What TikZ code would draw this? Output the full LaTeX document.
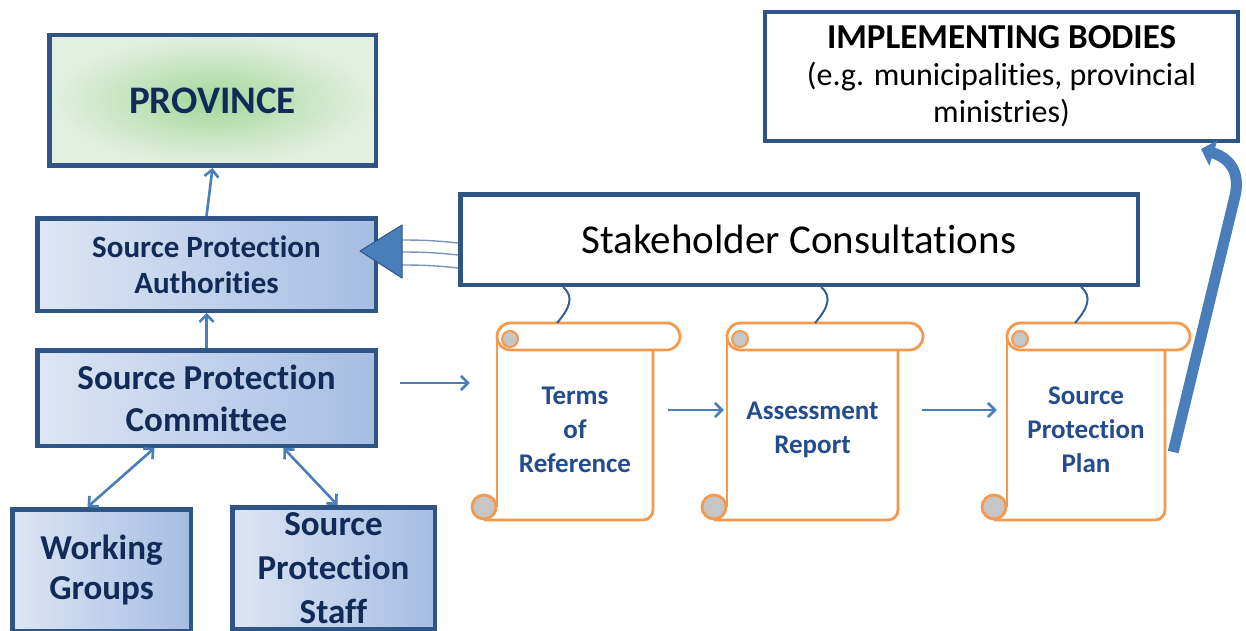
\documentclass[tikz,border=0pt]{standalone}
\usepackage{fontspec}
\setmainfont{Carlito}[Ligatures=NoCommon]
\usetikzlibrary{arrows.meta,calc}

\definecolor{frame}{HTML}{2F5486}
\definecolor{arrowblue}{HTML}{4A7EBB}
\definecolor{navy}{HTML}{112A58}
\definecolor{scrollorange}{HTML}{F5994E}
\definecolor{scrolltext}{HTML}{234C8C}
\definecolor{curlgray}{HTML}{C6C6C6}
\definecolor{bluelight}{HTML}{DCE6F4}
\definecolor{bluedark}{HTML}{A6BDE3}
\definecolor{greenmid}{HTML}{A5D69C}
\definecolor{greenedge}{HTML}{E2F1DF}
\definecolor{shaft}{HTML}{7D95B8}

\tikzset{
  box/.style={draw=frame, line width=4.5pt, inner sep=0pt, align=center, text=navy},
  bluebox/.style={box, left color=bluelight, right color=bluedark},
  whitebox/.style={box, fill=white, text=black},
  conn/.style={draw=arrowblue, line width=2.6pt, -{Straight Barb[length=7pt,width=14pt]}},
  conntwo/.style={conn, {Straight Barb[length=7pt,width=14pt]}-{Straight Barb[length=7pt,width=14pt]}},
  scrollline/.style={draw=scrollorange, line width=2.8pt},
  scrolltxt/.style={align=center, inner sep=0pt, text=scrolltext,
    font=\bfseries\fontsize{27}{34}\selectfont},
  hook/.style={draw=frame!70!arrowblue, line width=2pt},
}

% a hanging scroll: name, left edge, right end of the roll, right edge of the sheet, x of the hanger, text
\newcommand\scrollpage[6]{%
  \fill[white] (#2,337) rectangle (#4,520);
  \draw[scrollline] (#2,337) -- (#2,507);
  \draw[scrollline, rounded corners=10pt] (#2-13,520) -- (#4,520) -- (#4,345);
  \draw[scrollline, fill=white, rounded corners=13.5pt] (#2,323) rectangle (#3,350);
  \draw[scrollline, line width=2pt, fill=curlgray] (#2+13,339) circle[radius=8];
  \draw[scrollline, fill=curlgray] (#2-13,507) circle[radius=12];
  \node[scrolltxt, minimum width={(#4-#2)*1pt}] (#1) at ({(#2+#4)/2},430) {#6};
  \coordinate (#1top) at (#5,323);
  \draw[hook] ($(#1top |- stake.south)+(6,0)$) .. controls +(12,10) and +(12,-14) .. (#1top);
}

\begin{document}
\begin{tikzpicture}[x=1pt,y=-1pt]
\path[use as bounding box, fill=white] (0,0) rectangle (1246,631);
\clip (0,0) rectangle (1246,631);

% left hierarchy
\node[box, inner color=greenmid, outer color=greenedge, minimum width=326.5pt, minimum height=130.5pt,
      font=\bfseries\fontsize{39}{40}\selectfont] (prov) at (212.5,100.5) {PROVINCE};
\node[bluebox, minimum width=338.5pt, minimum height=92.5pt,
      font=\bfseries\fontsize{31}{36}\selectfont] (spa) at (206.5,264.5) {Source Protection\\Authorities};
\node[bluebox, minimum width=338.5pt, minimum height=95.5pt,
      font=\bfseries\fontsize{35}{42}\selectfont] (spc) at (206.5,398) {Source Protection\\Committee};
\node[bluebox, minimum width=178.5pt, minimum height=121.5pt,
      font=\bfseries\fontsize{35}{40}\selectfont] (wg) at (101.5,570) {Working\\Groups};
\node[bluebox, minimum width=202.5pt, minimum height=121.5pt,
      font=\bfseries\fontsize{35}{44}\selectfont] (staff) at (333.5,568) {Source\\Protection\\Staff};

% right side
\node[whitebox, minimum width=677.5pt, minimum height=90.5pt,
      font=\fontsize{41}{44}\selectfont] (stake) at (799,239.5) {Stakeholder Consultations};
\node[whitebox, line width=4pt, minimum width=473pt, minimum height=129pt,
      font=\fontsize{32}{37}\selectfont] (impl) at (1001.5,76.5)
      {{\bfseries\fontsize{35}{37}\selectfont IMPLEMENTING BODIES}\\(e.g. municipalities, provincial\\ministries)};

\scrollpage{s1}{497}{680}{653}{557}{Terms\\of\\Reference}
\scrollpage{s2}{727}{923}{898}{815}{Assessment\\Report}
\scrollpage{s3}{1007}{1190}{1165}{1075}{Source\\Protection\\Plan}

% connectors of the hierarchy
\draw[conn] (spa.north) -- (prov.south);
\draw[conn] (spc.north) -- (spa.south);
\draw[conntwo] ($(spc.south)+(-52,0)$) -- ($(wg.north)+(-14,0)$);
\draw[conntwo] ($(spc.south)+(77,0)$) -- ($(staff.north)+(4,0)$);

% document flow
\draw[conn] ($(spc.east)+(22,-15)$) -- ($(s1.west)+(-27,-47)$);
\draw[conn] ($(s1.east)+(15,-20)$) -- ($(s2.west)+(-3,-20)$);
\draw[conn] ($(s2.east)+(24,-20)$) -- ($(s3.west)+(-10,-20)$);

% consultations feeding the authorities
\coordinate (tip) at ($(spa.east)+(-18,-13.5)$);
\draw[shaft, line width=1.4pt] ($(tip)+(42,-11)$) to[bend left=3] ($(stake.west)+(0,3.5)$);
\draw[shaft, line width=1.4pt] ($(tip)+(42,1)$) to[bend left=3] ($(stake.west)+(0,15.5)$);
\draw[shaft, line width=1.4pt] ($(tip)+(42,14)$) to[bend left=3] ($(stake.west)+(0,28.5)$);
\draw[fill=arrowblue, draw=frame, line width=1pt, line join=round]
  (tip) -- ($(tip)+(42,-26)$) -- ($(tip)+(42,27)$) -- cycle;

% plan handed to the implementing bodies
\coordinate (planout) at ($(s3.east)+(8,22)$);
\coordinate (implin) at ($(impl.south east)+(-39,6)$);
\draw[arrowblue, line width=11pt, -{Triangle[length=13pt,width=26pt]}]
  (planout) -- (1234,200) .. controls (1242,172) and (1229,158) .. (implin);
\end{tikzpicture}
\end{document}
